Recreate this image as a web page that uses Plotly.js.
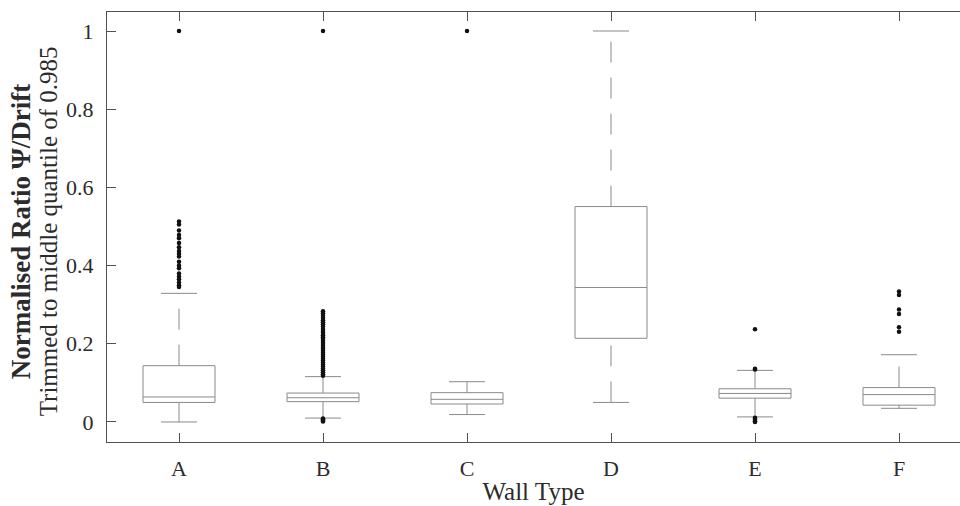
<!DOCTYPE html>
<html>
<head>
<meta charset="utf-8">
<script src="https://cdn.plot.ly/plotly-3.0.1.min.js"></script>
<style>html,body{margin:0;padding:0;background:#fff;}#chart{width:960px;height:506px;}</style>
</head>
<body>
<div id="chart"></div>
<script>
// ---- data ----
const categories = ["A", "B", "C", "D", "E", "F"];
const q1     = [0.050, 0.052, 0.046, 0.214, 0.061, 0.043];
const median = [0.064, 0.062, 0.058, 0.344, 0.073, 0.070];
const q3     = [0.144, 0.074, 0.075, 0.551, 0.085, 0.088];
const lowerWhisker = [0.000, 0.010, 0.019, 0.050, 0.013, 0.035];
const upperWhisker = [0.329, 0.116, 0.103, 1.000, 0.132, 0.172];
const outliersA = [1.0, 0.513, 0.505, 0.49, 0.478, 0.47, 0.458, 0.447, 0.437, 0.43, 0.423, 0.41, 0.40, 0.393, 0.38, 0.372, 0.365, 0.357, 0.35, 0.345];
const outliersB = [1.0, 0.283, 0.278, 0.272, 0.266, 0.26, 0.255, 0.25, 0.244, 0.238, 0.233, 0.228, 0.222, 0.217, 0.212, 0.207, 0.202, 0.197, 0.192, 0.187, 0.182, 0.177, 0.172, 0.167, 0.162, 0.157, 0.152, 0.147, 0.142, 0.137, 0.132, 0.127, 0.122, 0.118, 0.009, 0.007, 0.005, 0.003, 0.001];
const outliersC = [1.0];
const outliersD = [];
const outliersE = [0.237, 0.136, 0.134, 0.011, 0.008, 0.005, 0.002, 0.0];
const outliersF = [0.334, 0.325, 0.288, 0.276, 0.242, 0.231];
const yTickVals = [0, 0.2, 0.4, 0.6, 0.8, 1];
const yTickText = ["0", "0.2", "0.4", "0.6", "0.8", "1"];
const outliers = [outliersA, outliersB, outliersC, outliersD, outliersE, outliersF];

// ---- styling ----
const boxColor = "#8a8a8a";
const axisColor = "#505050";
const textColor = "#2b2b2b";
const font = "Liberation Serif, Times New Roman, serif";
const halfBox = 0.25, halfCap = 0.125;

const boxX = [], boxY = [], medX = [], medY = [], capX = [], capY = [];
categories.forEach((c, i) => {
  const x = i + 1;
  boxX.push(x - halfBox, x + halfBox, x + halfBox, x - halfBox, x - halfBox, null);
  boxY.push(q1[i], q1[i], q3[i], q3[i], q1[i], null);
  medX.push(x - halfBox, x + halfBox, null);
  medY.push(median[i], median[i], null);
  capX.push(x - halfCap, x + halfCap, null, x - halfCap, x + halfCap, null);
  capY.push(upperWhisker[i], upperWhisker[i], null, lowerWhisker[i], lowerWhisker[i], null);
});

const traces = [];
categories.forEach((c, i) => {
  const x = i + 1;
  traces.push({type: "scatter", mode: "lines", x: [x, x], y: [q3[i], upperWhisker[i]],
    line: {color: boxColor, width: 1, dash: "21px,15px"}, hoverinfo: "skip", showlegend: false});
  traces.push({type: "scatter", mode: "lines", x: [x, x], y: [lowerWhisker[i], q1[i]],
    line: {color: boxColor, width: 1, dash: "21px,15px"}, hoverinfo: "skip", showlegend: false});
});
traces.push({type: "scatter", mode: "lines", x: capX, y: capY, line: {color: boxColor, width: 1}, hoverinfo: "skip", showlegend: false});
traces.push({type: "scatter", mode: "lines", x: boxX, y: boxY, line: {color: boxColor, width: 1}, hoverinfo: "skip", showlegend: false});
traces.push({type: "scatter", mode: "lines", x: medX, y: medY, line: {color: boxColor, width: 1}, hoverinfo: "skip", showlegend: false});
const oX = [], oY = [];
outliers.forEach((arr, i) => arr.forEach(v => { oX.push(i + 1); oY.push(v); }));
traces.push({type: "scatter", mode: "markers", x: oX, y: oY,
  marker: {color: "#111111", size: 4.5}, hoverinfo: "skip", showlegend: false});

const layout = {
  width: 960, height: 506,
  margin: {l: 107, r: 0, t: 12, b: 64},
  paper_bgcolor: "#ffffff", plot_bgcolor: "#ffffff",
  font: {family: font, size: 22, color: textColor},
  showlegend: false,
  xaxis: {
    range: [0.5, 6.4236],
    tickvals: [1, 2, 3, 4, 5, 6], ticktext: categories,
    ticks: "inside", ticklen: 9, tickcolor: axisColor, tickwidth: 1,
    showline: true, linecolor: axisColor, linewidth: 1, mirror: "ticks",
    showgrid: false, zeroline: false,
    ticklabelstandoff: 7,
    tickfont: {family: font, size: 22, color: textColor},
    title: {text: "Wall Type", font: {family: font, size: 25, color: textColor}, standoff: 2}
  },
  yaxis: {
    range: [-0.0512, 1.0486],
    tickvals: yTickVals, ticktext: yTickText,
    ticks: "inside", ticklen: 9, tickcolor: axisColor, tickwidth: 1,
    showline: true, linecolor: axisColor, linewidth: 1, mirror: false,
    showgrid: false, zeroline: false,
    ticklabelstandoff: 8,
    tickfont: {family: font, size: 22, color: textColor}
  },
  annotations: [
    {text: "<b>Normalised Ratio Ψ/Drift</b>", xref: "paper", yref: "paper",
     x: (21 - 107) / 853, y: 0.49, xanchor: "center", yanchor: "middle", textangle: -90,
     showarrow: false, font: {family: font, size: 27, color: textColor}},
    {text: "Trimmed to middle quantile of 0.985", xref: "paper", yref: "paper",
     x: (48 - 107) / 853, y: 0.49, xanchor: "center", yanchor: "middle", textangle: -90,
     showarrow: false, font: {family: font, size: 25, color: textColor}}
  ]
};

Plotly.newPlot("chart", traces, layout, {staticPlot: true, displayModeBar: false});
</script>
</body>
</html>
